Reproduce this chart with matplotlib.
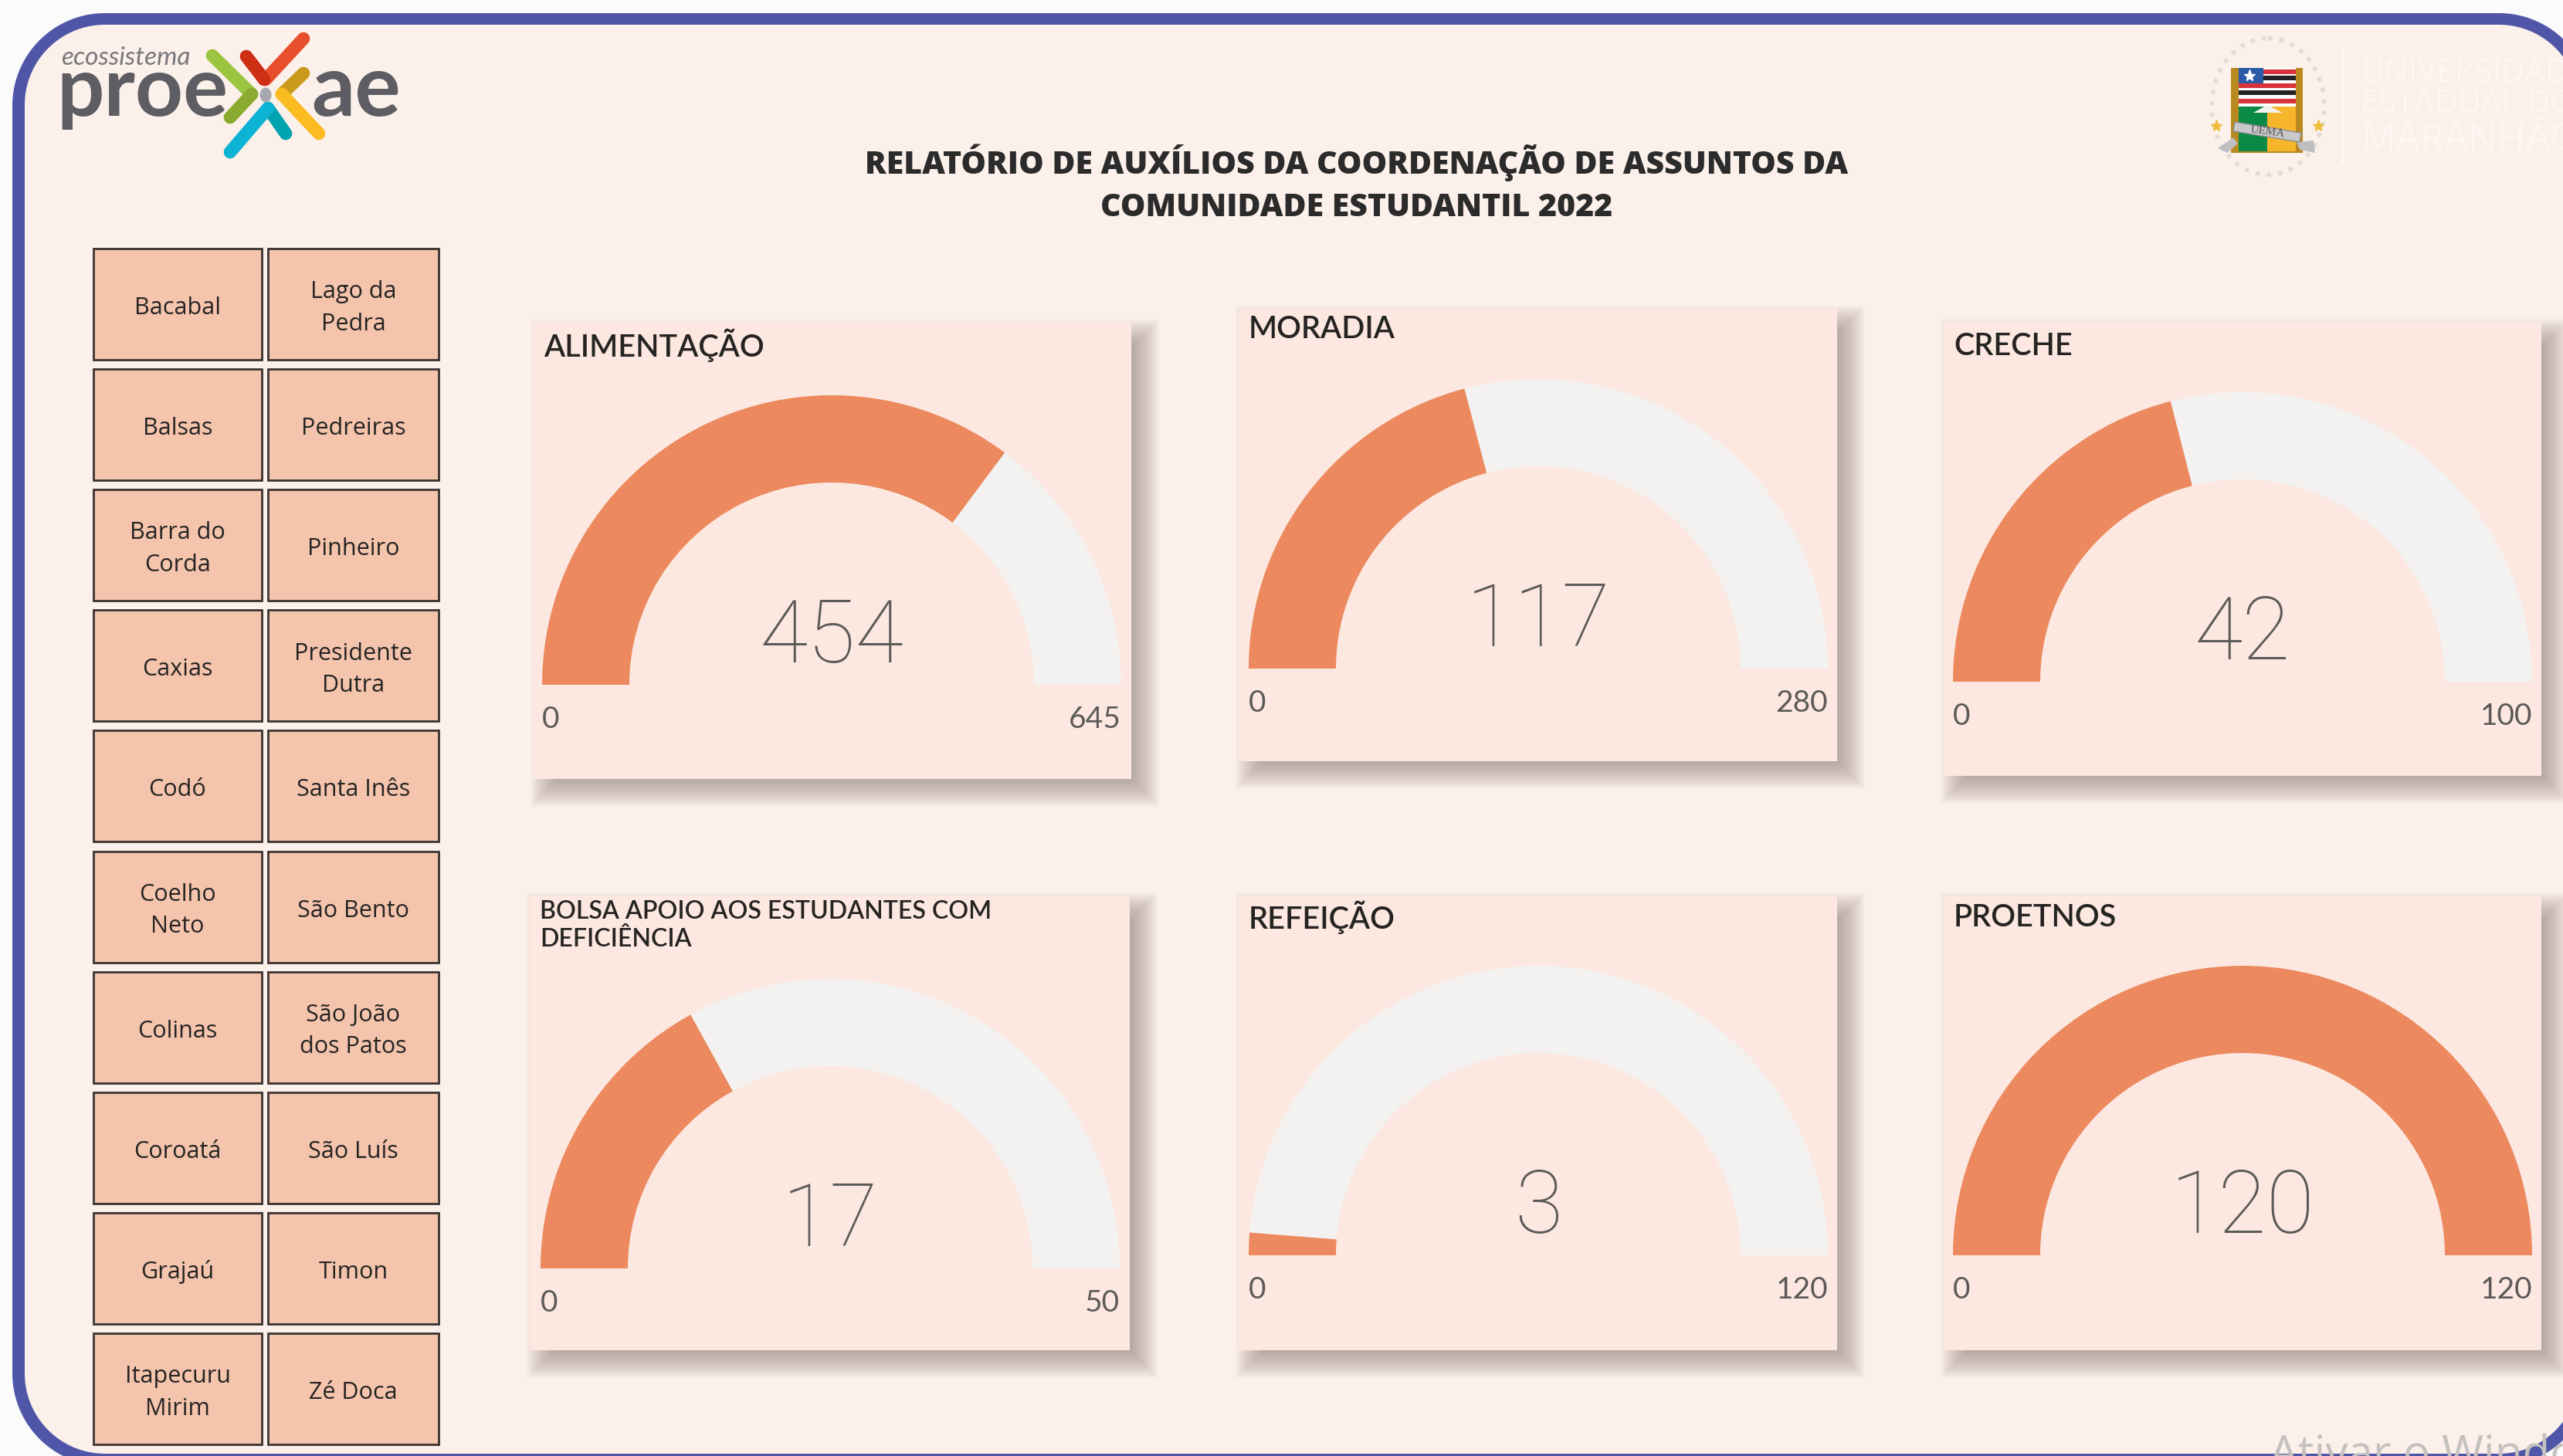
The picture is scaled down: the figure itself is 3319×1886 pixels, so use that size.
import numpy as np
import matplotlib
matplotlib.use('Agg')
import matplotlib.pyplot as plt
from matplotlib.patches import Wedge, Rectangle, Ellipse, Polygon

W, H = 3319, 1886

# gauges
gauge_titles = ['ALIMENTAÇÃO', 'MORADIA', 'CRECHE',
                'BOLSA APOIO AOS ESTUDANTES COM\nDEFICIÊNCIA', 'REFEIÇÃO', 'PROETNOS']
gauge_values = [454, 117, 42, 17, 3, 120]
gauge_maxes = [645, 280, 100, 50, 120, 120]
gauge_title_sizes = [28.5, 28.5, 28.5, 23, 28.5, 28.5]

# left, right, top, bottom of each card / centre x, base y of each arc / title y
card_boxes = [(691, 1465, 418, 1009), (1604, 2379, 400, 986), (2517, 3291, 417, 1005),
              (686, 1463, 1160, 1749), (1604, 2379, 1160, 1749), (2517, 3291, 1160, 1749)]
arc_centres = [(1077, 887), (1992, 866), (2904, 883), (1075, 1643), (1992, 1626), (2904, 1626)]
title_ys = [447, 427, 449, 1199, 1188, 1188]
R_OUT, R_IN = 375, 262

# slicer buttons
buttons_left = ['Bacabal', 'Balsas', 'Barra do\nCorda', 'Caxias', 'Codó', 'Coelho\nNeto',
                'Colinas', 'Coroatá', 'Grajaú', 'Itapecuru\nMirim']
buttons_right = ['Lago da\nPedra', 'Pedreiras', 'Pinheiro', 'Presidente\nDutra', 'Santa Inês',
                 'São Bento', 'São João\ndos Patos', 'São Luís', 'Timon', 'Zé Doca']

report_title = 'RELATÓRIO DE AUXÍLIOS DA COORDENAÇÃO DE ASSUNTOS DA\nCOMUNIDADE ESTUDANTIL 2022'
uni_lines = ['UNIVERSIDADE', 'ESTADUAL DO', 'MARANHÃO']

ORANGE = '#EC895E'
TRACK = '#F3F2F0'
CARD = '#FCE8E0'
BG = '#FCF0EA'
BLUE = '#4F56A8'
GREY = '#5C5A58'
BTN = '#F4C4AC'


def roundedRect(x0, y0, x1, y1, r):
    pts = []
    for cx, cy, a0 in [(x1 - r, y0 + r, -90), (x1 - r, y1 - r, 0), (x0 + r, y1 - r, 90), (x0 + r, y0 + r, 180)]:
        for a in np.radians(np.linspace(a0, a0 + 90, 40)):
            pts.append((cx + r * np.cos(a), cy + r * np.sin(a)))
    return pts


fig = plt.figure(figsize=(W / 100, H / 100), dpi=100, facecolor='#FBFBFB')
ax = fig.add_axes([0, 0, 1, 1])
ax.set_xlim(0, W)
ax.set_ylim(H, 0)
ax.axis('off')

# page with rounded blue frame, two fills because a stroke off the canvas gets dropped
ax.add_patch(Polygon(roundedRect(16, 17, 3356, 1899, 120), closed=True, fc=BLUE, ec='none', zorder=1))
page = Polygon(roundedRect(32, 32, 3340, 1883, 104), closed=True, fc=BG, ec='none', zorder=1.1)
ax.add_patch(page)
wm = ax.text(2939, 1901, 'Ativar o Windows', fontsize=42, color='#C4C1BF', family='Open Sans',
             va='baseline', zorder=1.5)
wm.set_clip_path(page)

# logo proexae
logo_strokes = [((393, 50), (344, 103), '#E8502D'), ((319, 73), (342, 103), '#CC2F14'),
                ((275, 72), (326, 122), '#9BC440'), ((326, 122), (298, 152), '#8BAA30'),
                ((393, 95), (365, 122), '#C99A1A'), ((365, 122), (413, 173), '#FBBC22'),
                ((370, 173), (347, 140), '#00A3B0'), ((347, 140), (298, 197), '#0DB3D4')]
for a, b, c in logo_strokes:
    ax.plot([a[0], b[0]], [a[1], b[1]], color=c, lw=12, solid_capstyle='round', zorder=3)
ax.add_patch(Ellipse((344, 123), 15, 19, fc='#A8A9B0', ec='none', zorder=3))
ax.text(73, 150, 'proe', fontsize=78, family='Lato', weight='bold', color='#5D5D63', va='baseline', zorder=2)
ax.text(403, 150, 'ae', fontsize=80, family='Lato', weight='bold', color='#5D5D63', va='baseline', zorder=2)
ax.text(79, 84, 'ecossistema', fontsize=24, family='Lato', style='italic', color='#77777B', va='baseline', zorder=2)

# crest
ax.add_patch(Ellipse((2937, 138), 146, 177, fc='none', ec='#E2DCD8', lw=4, ls=':', zorder=2))
ax.add_patch(Rectangle((2889, 88), 93, 110, fc='#B8891E', ec='none', zorder=2))
ax.add_patch(Rectangle((2899, 88), 74, 50, fc='white', ec='none', zorder=3))
for y, c in [(90, '#D9323A'), (98, '#222222'), (108, '#D9323A'), (117, '#222222'), (128, '#D9323A')]:
    ax.add_patch(Rectangle((2899, y), 74, 6, fc=c, ec='none', zorder=3))
ax.add_patch(Rectangle((2899, 88), 32, 20, fc='#2B5AA8', ec='none', zorder=3))
ax.plot([2913], [98], marker='*', ms=11, color='white', zorder=4)
ax.add_patch(Rectangle((2899, 138), 37, 58, fc='#0B8A45', ec='none', zorder=3))
ax.add_patch(Rectangle((2936, 138), 37, 58, fc='#F6B52A', ec='none', zorder=3))
ax.add_patch(Polygon([(2918, 146), (2936, 136), (2956, 146)], fc='#F4F2EE', ec='none', zorder=4))
ax.add_patch(Polygon([(2894, 158), (2980, 172), (2978, 184), (2892, 170)], fc='#C9C9CB', ec='#8B8B8E', lw=1, zorder=5))
ax.add_patch(Polygon([(2872, 192), (2892, 178), (2898, 186), (2884, 198)], fc='#BFBFC2', ec='none', zorder=4))
ax.add_patch(Polygon([(2974, 184), (2996, 182), (2998, 198), (2978, 194)], fc='#BFBFC2', ec='none', zorder=4))
ax.text(2936, 171, 'UEMA', fontsize=11, family='Liberation Serif', color='#555555', rotation=-8,
        ha='center', va='center', zorder=6)
for sx in (2870, 3002):
    ax.plot([sx], [163], marker='*', ms=11, color='#F0BE3A', zorder=3)
ax.plot([3034, 3034], [65, 210], color='#FEF7F3', lw=3, zorder=2)
for line, y, fs in zip(uni_lines, (95, 135, 182), (30, 30, 36)):
    ax.text(3057, y, line, fontsize=fs, family='Open Sans', color='#FEF6F2', va='center', zorder=2)

# report title
ax.text(1757, 238, report_title, fontsize=29.5, family='Open Sans', weight=800, color='#2B2B2B',
        ha='center', va='center', linespacing=1.45, zorder=3)

# slicer
for col, names in enumerate((buttons_left, buttons_right)):
    x0, x1 = (121, 339) if col == 0 else (347, 568)
    for i, name in enumerate(names):
        y0 = 322 + i * 156.1
        ax.add_patch(Rectangle((x0 + 2, y0 + 2), x1 - x0, 144, fc='#B9AFAA', ec='none', alpha=0.5, zorder=2))
        ax.add_patch(Rectangle((x0, y0), x1 - x0, 144, fc=BTN, ec='#3A3431', lw=2, zorder=3))
        ax.text((x0 + x1) / 2, y0 + 77, name, fontsize=22, family='Open Sans', color='#252423',
                ha='center', va='center', linespacing=1.5, zorder=4)

# gauge cards
for k in range(len(gauge_titles)):
    l, r, t, b = card_boxes[k]
    cx, base = arc_centres[k]
    # soft shadow falling to the lower right
    for grow in range(20, -32, -2):
        ax.add_patch(Rectangle((l + 16 - grow, t + 16 - grow), r - l + 2 * grow, b - t + 2 * grow,
                               fc='#7A6A64', ec='none', alpha=0.035, zorder=2))
    ax.add_patch(Rectangle((l, t), r - l, b - t, fc=CARD, ec='none', zorder=3))
    frac = gauge_values[k] / gauge_maxes[k]
    ax.add_patch(Wedge((cx, base), R_OUT, 180, 360, width=R_OUT - R_IN, fc=TRACK, ec='none', zorder=4))
    ax.add_patch(Wedge((cx, base), R_OUT, 180, 180 + 180 * frac, width=R_OUT - R_IN, fc=ORANGE, ec='none', zorder=5))
    ax.text(cx, base - 60, str(gauge_values[k]), fontsize=82, family='Roboto', weight='light', color=GREY,
            ha='center', va='center', zorder=6)
    ax.text(cx - R_OUT, base + 45, '0', fontsize=28, family='Lato', color=GREY, ha='left', va='center', zorder=6)
    ax.text(cx + R_OUT, base + 45, str(gauge_maxes[k]), fontsize=28, family='Lato', color=GREY,
            ha='right', va='center', zorder=6)
    ax.text(l + 13, title_ys[k], gauge_titles[k], fontsize=gauge_title_sizes[k], family='Lato', weight='semibold',
            color='#252423', ha='left', va='center', linespacing=1.25, zorder=6)

fig.savefig('out.png', dpi=100, facecolor=fig.get_facecolor())
